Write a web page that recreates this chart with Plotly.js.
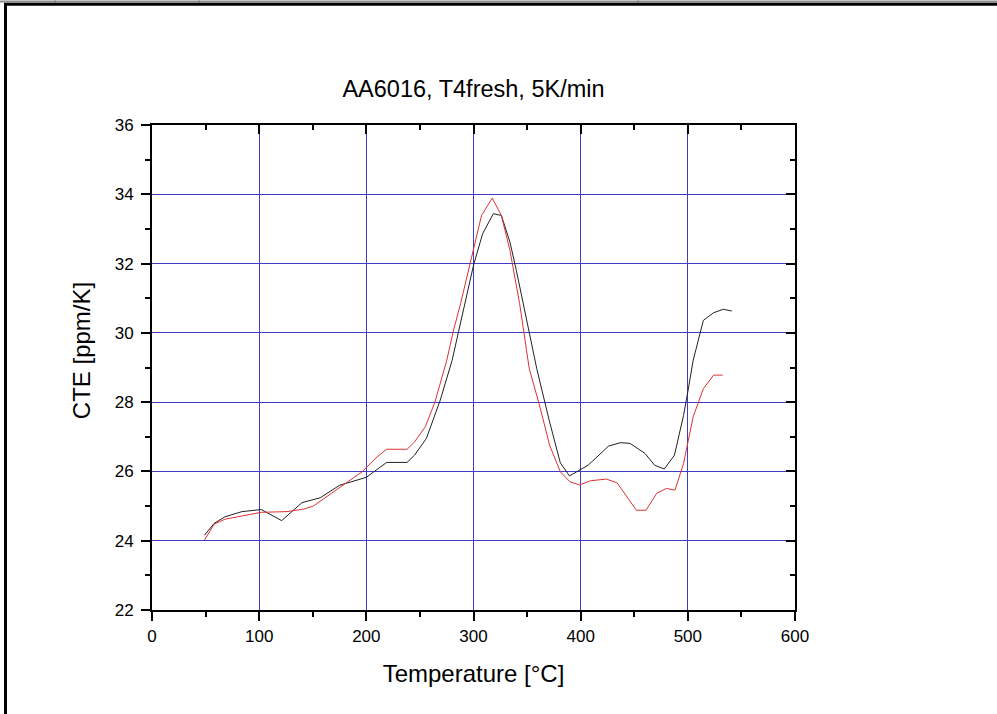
<!DOCTYPE html>
<html>
<head>
<meta charset="utf-8">
<script src="https://cdn.plot.ly/plotly-3.0.1.min.js"></script>
<style>html,body{margin:0;padding:0;background:#fff;}#chart{width:997px;height:714px;}</style>
</head>
<body>
<div id="chart"></div>
<script>
// Sample 1 (black)
const tempBlack = [49, 58, 68, 84, 102, 121, 140, 157, 175, 200, 219, 238, 245, 256, 269, 280, 286, 300, 308.5, 318.5, 326, 334, 340, 351, 359, 371, 381, 389.5, 399.5, 407, 426, 437, 446, 460, 469, 478, 487.5, 496, 500, 505, 514.5, 524, 533, 541];
const cteBlack  = [24.16, 24.50, 24.69, 24.84, 24.90, 24.58, 25.10, 25.24, 25.60, 25.83, 26.26, 26.26, 26.47, 26.95, 28.06, 29.20, 30.03, 31.95, 32.86, 33.44, 33.39, 32.62, 31.80, 30.17, 28.97, 27.43, 26.25, 25.87, 26.04, 26.18, 26.73, 26.83, 26.81, 26.52, 26.18, 26.07, 26.47, 27.62, 28.30, 29.21, 30.36, 30.58, 30.68, 30.63];
// Sample 2 (red)
const tempRed = [49, 58, 68, 84, 102, 126, 141, 150.5, 175, 196, 210, 219, 238, 245, 255, 264, 275, 281, 288, 300, 307.5, 317.5, 326, 334, 343, 352, 362, 371, 381, 390, 399, 409, 424, 434, 452, 461, 471, 480, 488, 496, 505, 514.5, 524, 532.5];
const cteRed  = [24.02, 24.48, 24.62, 24.72, 24.82, 24.84, 24.91, 25.00, 25.53, 25.99, 26.42, 26.64, 26.64, 26.85, 27.29, 28.00, 29.20, 30.03, 30.85, 32.38, 33.39, 33.89, 33.39, 32.38, 30.85, 28.97, 27.86, 26.76, 25.99, 25.70, 25.61, 25.73, 25.78, 25.67, 24.88, 24.88, 25.37, 25.51, 25.46, 26.23, 27.58, 28.39, 28.78, 28.78];

const xRange = [0, 600];
const yRange = [22, 36];
const xTicks = [0, 100, 200, 300, 400, 500, 600];
const yTicks = [22, 24, 26, 28, 30, 32, 34, 36];

const FONT = 'Liberation Sans, Arial, sans-serif';
const GRID = 'rgb(60,60,200)';

const traces = [
  {x: tempBlack, y: cteBlack, type: 'scatter', mode: 'lines', line: {color: '#222', width: 1}, hoverinfo: 'skip'},
  {x: tempRed, y: cteRed, type: 'scatter', mode: 'lines', line: {color: 'rgb(220,50,50)', width: 1}, hoverinfo: 'skip'},
  {x: [], y: [], xaxis: 'x2', yaxis: 'y2', type: 'scatter', mode: 'lines', hoverinfo: 'skip'}
];

// layout geometry helpers (paper coords from pixels)
const L = 152, R = 795, T = 124.7, B = 610;
const W = 997, H = 714;
const px = p => (p - L) / (R - L);
const py = p => (B - p) / (B - T);

const axisCommon = {
  showline: true, linecolor: '#000', linewidth: 2,
  zeroline: false,
  tickcolor: '#000', tickwidth: 2, ticklen: 9,
  tickfont: {family: FONT, size: 17, color: '#000'}
};

const layout = {
  width: W, height: H,
  paper_bgcolor: '#fff', plot_bgcolor: '#fff',
  showlegend: false,
  margin: {l: L, r: W - R, t: T, b: H - B, pad: 0},
  title: {text: 'AA6016, T4fresh, 5K/min', font: {family: FONT, size: 23.5, color: '#000'},
          x: 0.5, xref: 'paper', xanchor: 'center', y: 1 - 89 / H, yref: 'container', yanchor: 'middle'},
  xaxis: Object.assign({}, axisCommon, {
    range: xRange, tickvals: xTicks, ticks: 'outside',
    showgrid: true, gridcolor: GRID, gridwidth: 1,
    minor: {dtick: 50, tick0: 0, ticks: 'outside', ticklen: 5, tickwidth: 2, tickcolor: '#000', showgrid: false},
    title: {text: 'Temperature [°C]', font: {family: FONT, size: 24, color: '#000'}, standoff: 20},
    ticklabelstandoff: 1
  }),
  yaxis: Object.assign({}, axisCommon, {
    range: yRange, tickvals: yTicks, ticks: 'outside',
    showgrid: true, gridcolor: GRID, gridwidth: 1,
    minor: {dtick: 1, tick0: 22, ticks: 'outside', ticklen: 5, tickwidth: 2, tickcolor: '#000', showgrid: false},
    ticklabelstandoff: 4
  }),
  xaxis2: Object.assign({}, axisCommon, {
    overlaying: 'x', side: 'top', anchor: 'y2', range: xRange, tickvals: xTicks,
    ticks: 'inside', showticklabels: false, showgrid: false,
    minor: {dtick: 50, tick0: 0, ticks: 'inside', ticklen: 5, tickwidth: 2, tickcolor: '#000', showgrid: false}
  }),
  yaxis2: Object.assign({}, axisCommon, {
    overlaying: 'y', side: 'right', anchor: 'x2', range: yRange, tickvals: yTicks,
    ticks: 'inside', showticklabels: false, showgrid: false,
    minor: {dtick: 1, tick0: 22, ticks: 'inside', ticklen: 5, tickwidth: 2, tickcolor: '#000', showgrid: false}
  }),
  annotations: [
    {text: 'CTE [ppm/K]', textangle: -90, xref: 'paper', yref: 'paper', x: px(81), y: py(351),
     xanchor: 'center', yanchor: 'middle', showarrow: false, font: {family: FONT, size: 24, color: '#000'}}
  ],
  shapes: [
    // grey strip at very top with small separators
    {type: 'line', xref: 'paper', yref: 'paper', x0: px(0), x1: px(W), y0: py(1), y1: py(1), line: {color: '#8a8a8a', width: 2}},
    {type: 'line', xref: 'paper', yref: 'paper', x0: px(55), x1: px(55), y0: py(0), y1: py(3), line: {color: '#777', width: 1}},
    {type: 'line', xref: 'paper', yref: 'paper', x0: px(199), x1: px(199), y0: py(0), y1: py(3), line: {color: '#777', width: 1}},
    {type: 'line', xref: 'paper', yref: 'paper', x0: px(638), x1: px(638), y0: py(0), y1: py(3), line: {color: '#777', width: 1}},
    // black frame top and left
    {type: 'line', xref: 'paper', yref: 'paper', x0: px(4), x1: px(W), y0: py(4), y1: py(4), line: {color: '#000', width: 3}},
    {type: 'line', xref: 'paper', yref: 'paper', x0: px(5.5), x1: px(5.5), y0: py(3), y1: py(H), line: {color: '#000', width: 3}}
  ]
};

Plotly.newPlot('chart', traces, layout, {displayModeBar: false, staticPlot: true});
</script>
</body>
</html>
